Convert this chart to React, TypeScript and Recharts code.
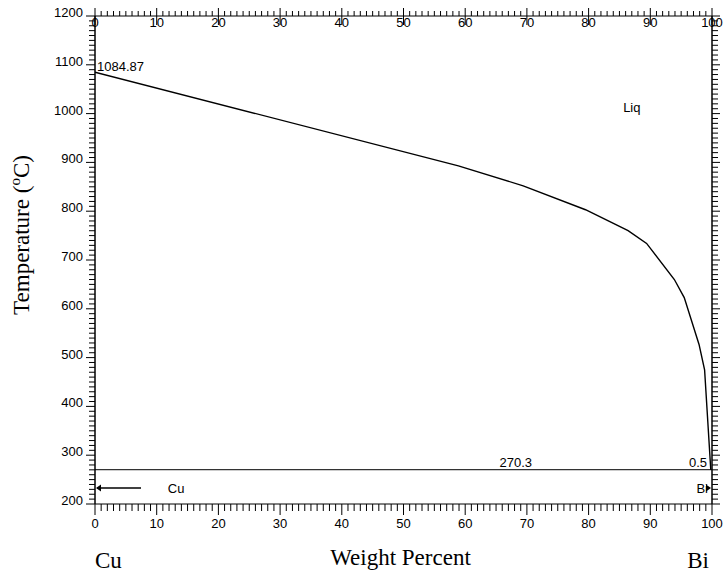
import React from 'react';
import { LineChart, Line, XAxis, YAxis, ReferenceLine, ReferenceDot } from 'recharts';

// liquidus
const liqWt = [0, 58.9, 69.4, 79.5, 86.4, 89.4, 93.9, 95.5, 97.9, 98.8, 99.8];
const liqTemp = [1084.87, 893, 852, 803, 760, 734, 660, 623, 527, 475, 270.3];

const xMajor = [0, 10, 20, 30, 40, 50, 60, 70, 80, 90, 100];
const yMajor = [200, 300, 400, 500, 600, 700, 800, 900, 1000, 1100, 1200];

const cuMelt = 1084.87;
const eutectic = 270.3;

// minor ticks every 1 wt% and every 10 C
const xTicks = Array.from({ length: 101 }, (_, i) => i);
const yTicks = Array.from({ length: 101 }, (_, i) => 200 + i * 10);

const data = liqWt.map((w, i) => ({ wt: w, t: liqTemp[i] }));

const SANS = '"Liberation Sans", Arial, sans-serif';
const SERIF = '"Liberation Serif", "Times New Roman", serif';

const BottomTick = (props: any) => {
  const { x, y, payload } = props;
  const major = xMajor.includes(payload.value);
  return (
    <g>
      <line x1={x} y1={y} x2={x} y2={y + (major ? 11 : 7)} stroke="#000" />
      {major && (
        <text x={x} y={y + 24} textAnchor="middle" fontFamily={SANS} fontSize={13} fill="#000">
          {payload.value}
        </text>
      )}
    </g>
  );
};

const TopTick = (props: any) => {
  const { x, y, payload } = props;
  const major = xMajor.includes(payload.value);
  return (
    <g>
      <line x1={x} y1={major ? y - 8 : y - 5} x2={x} y2={major ? y + 9 : y} stroke="#000" />
      {major && (
        <text x={x} y={y + 11} textAnchor="middle" fontFamily={SANS} fontSize={13} fill="#000">
          {payload.value}
        </text>
      )}
    </g>
  );
};

const LeftTick = (props: any) => {
  const { x, y, payload } = props;
  const major = yMajor.includes(payload.value);
  return (
    <g>
      <line x1={x - (major ? 9 : 6)} y1={y} x2={x} y2={y} stroke="#000" />
      {major && (
        <text x={x - 12} y={y + 1} textAnchor="end" fontFamily={SANS} fontSize={13} fill="#000">
          {payload.value}
        </text>
      )}
    </g>
  );
};

const RightTick = (props: any) => {
  const { x, y, payload } = props;
  const major = yMajor.includes(payload.value);
  return <line x1={x} y1={y} x2={x + (major ? 8 : 6)} y2={y} stroke="#000" />;
};

const txt = (s: string, dx: number, dy: number, anchor = 'start') => (p: any) => (
  <text x={p.cx + dx} y={p.cy + dy} textAnchor={anchor} fontFamily={SANS} fontSize={13} fill="#000">
    {s}
  </text>
);

const arrowLeft = (p: any) => (
  <g>
    <line x1={p.cx + 2} y1={p.cy} x2={p.cx + 46} y2={p.cy} stroke="#000" strokeWidth={1.3} />
    <polygon points={`${p.cx + 1},${p.cy} ${p.cx + 6},${p.cy - 3.5} ${p.cx + 6},${p.cy + 3.5}`} fill="#000" />
  </g>
);

const arrowRight = (p: any) => (
  <polygon points={`${p.cx - 1},${p.cy} ${p.cx - 6},${p.cy - 3.5} ${p.cx - 6},${p.cy + 3.5}`} fill="#000" />
);

const App = () => (
  <div style={{ position: 'absolute', left: 0, top: 0, width: 725, height: 577, background: '#fff' }}>
    <LineChart width={725} height={577} data={data} margin={{ top: 0, right: 0, bottom: 0, left: 0 }}>
      <XAxis
        xAxisId="b"
        dataKey="wt"
        type="number"
        domain={[0, 100]}
        allowDataOverflow
        ticks={xTicks}
        interval={0}
        height={73}
        tickSize={0}
        tickMargin={0}
        tick={<BottomTick />}
        axisLine={{ stroke: '#000' }}
        label={{
          content: ({ viewBox }: any) => (
            <g fontFamily={SERIF} fontSize={23} fill="#000">
              <text x={viewBox.x} y={viewBox.y + 64}>Cu</text>
              <text x={viewBox.x + viewBox.width / 2 - 3} y={viewBox.y + 61} textAnchor="middle">
                Weight Percent
              </text>
              <text x={viewBox.x + viewBox.width - 3} y={viewBox.y + 64} textAnchor="end">Bi</text>
            </g>
          ),
        }}
      />
      <XAxis
        xAxisId="t"
        orientation="top"
        dataKey="wt"
        type="number"
        domain={[0, 100]}
        allowDataOverflow
        ticks={xTicks}
        interval={0}
        height={16}
        tickSize={0}
        tickMargin={0}
        tick={<TopTick />}
        axisLine={{ stroke: '#000' }}
      />
      <YAxis
        yAxisId="l"
        dataKey="t"
        type="number"
        domain={[200, 1200]}
        allowDataOverflow
        ticks={yTicks}
        interval={0}
        width={95}
        tickSize={0}
        tickMargin={0}
        tick={<LeftTick />}
        axisLine={{ stroke: '#000', strokeWidth: 1.5 }}
        label={{
          content: () => {
            const cx = 29;
            const cy = 235;
            return (
              <text
                x={cx}
                y={cy}
                transform={`rotate(-90, ${cx}, ${cy})`}
                textAnchor="middle"
                fontFamily={SERIF}
                fontSize={23}
                fill="#000"
              >
                Temperature (<tspan fontSize={15} dy={-9}>o</tspan>
                <tspan dy={9}>C)</tspan>
              </text>
            );
          },
        }}
      />
      <YAxis
        yAxisId="r"
        orientation="right"
        dataKey="t"
        type="number"
        domain={[200, 1200]}
        allowDataOverflow
        ticks={yTicks}
        interval={0}
        width={13}
        tickSize={0}
        tickMargin={0}
        tick={<RightTick />}
        axisLine={{ stroke: '#000', strokeWidth: 1.5 }}
      />

      <ReferenceLine xAxisId="b" yAxisId="l" y={eutectic} stroke="#333" strokeWidth={1.3} />

      <Line
        xAxisId="b"
        yAxisId="l"
        type="linear"
        dataKey="t"
        stroke="#000"
        strokeWidth={1.4}
        dot={false}
        isAnimationActive={false}
      />
      {/* hidden copy so the top and right axes have a series of their own */}
      <Line
        xAxisId="t"
        yAxisId="r"
        type="linear"
        dataKey="t"
        stroke="none"
        dot={false}
        activeDot={false}
        isAnimationActive={false}
      />

      <ReferenceDot xAxisId="b" yAxisId="l" x={0} y={cuMelt} r={0} shape={txt('1084.87', 2, -1)} />
      <ReferenceDot xAxisId="b" yAxisId="l" x={85.6} y={1003} r={0} shape={txt('Liq', 0, 0)} />
      <ReferenceDot xAxisId="b" yAxisId="l" x={68.2} y={eutectic} r={0} shape={txt('270.3', 0, -3, 'middle')} />
      <ReferenceDot xAxisId="b" yAxisId="l" x={100} y={eutectic} r={0} shape={txt('0.5', -5, -3, 'end')} />
      <ReferenceDot xAxisId="b" yAxisId="l" x={0} y={232.8} r={0} shape={arrowLeft} />
      <ReferenceDot xAxisId="b" yAxisId="l" x={11.8} y={232.8} r={0} shape={txt('Cu', 0, 5)} />
      <ReferenceDot xAxisId="b" yAxisId="l" x={100} y={232.8} r={0} shape={arrowRight} />
      <ReferenceDot xAxisId="b" yAxisId="l" x={100} y={232.8} r={0} shape={txt('Bi', -4, 5, 'end')} />
    </LineChart>
  </div>
);

export default App;
